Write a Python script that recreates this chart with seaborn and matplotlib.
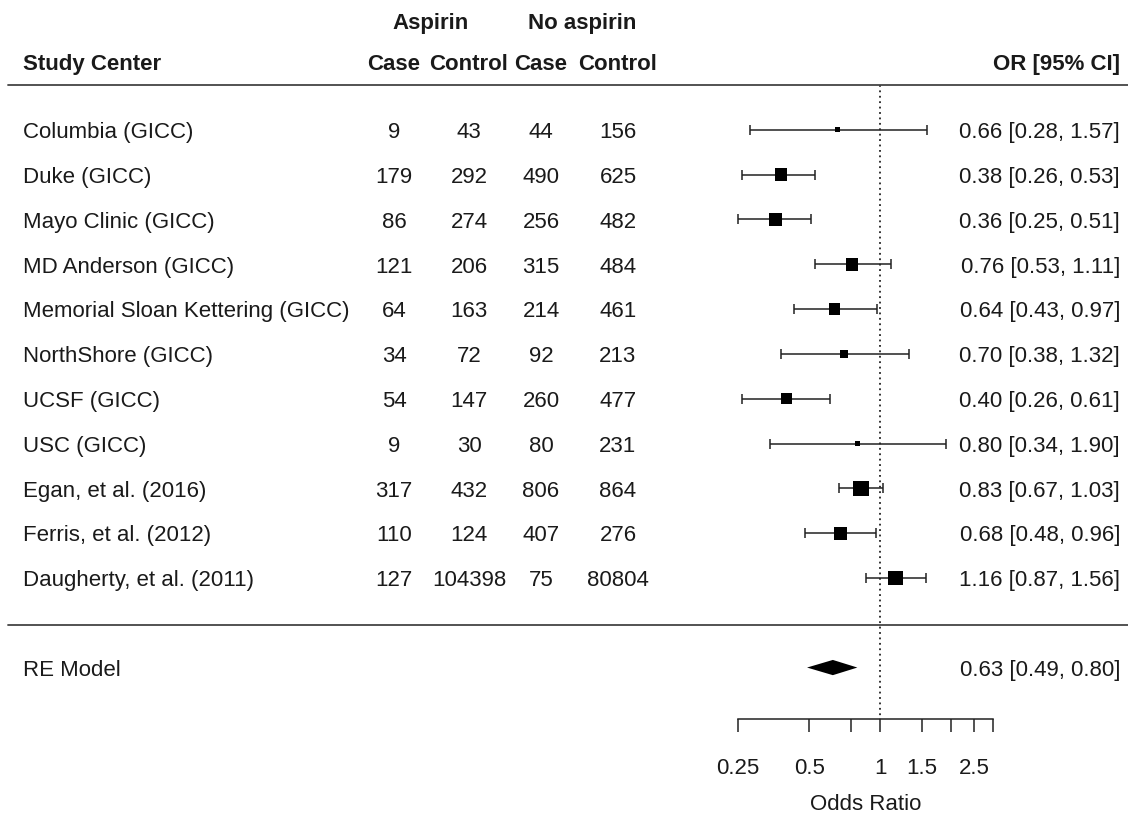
import numpy as np
import matplotlib
matplotlib.use("Agg")
import matplotlib.pyplot as plt
from matplotlib.transforms import blended_transform_factory
import seaborn as sns

studies = ["Columbia (GICC)", "Duke (GICC)", "Mayo Clinic (GICC)", "MD Anderson (GICC)",
           "Memorial Sloan Kettering (GICC)", "NorthShore (GICC)", "UCSF (GICC)", "USC (GICC)",
           "Egan, et al. (2016)", "Ferris, et al. (2012)", "Daugherty, et al. (2011)"]
asp_case = [9, 179, 86, 121, 64, 34, 54, 9, 317, 110, 127]
asp_control = [43, 292, 274, 206, 163, 72, 147, 30, 432, 124, 104398]
noasp_case = [44, 490, 256, 315, 214, 92, 260, 80, 806, 407, 75]
noasp_control = [156, 625, 482, 484, 461, 213, 477, 231, 864, 276, 80804]
odds_ratio = [0.66, 0.38, 0.36, 0.76, 0.64, 0.70, 0.40, 0.80, 0.83, 0.68, 1.16]
ci_low = [0.28, 0.26, 0.25, 0.53, 0.43, 0.38, 0.26, 0.34, 0.67, 0.48, 0.87]
ci_high = [1.57, 0.53, 0.51, 1.11, 0.97, 1.32, 0.61, 1.90, 1.03, 0.96, 1.56]
re_label = "RE Model"
re_or, re_low, re_high = 0.63, 0.49, 0.80
tau2 = 0.1
xticks = [0.25, 0.5, 0.75, 1, 1.5, 2, 2.5, 3]
xticklabels = ["0.25", "0.5", "", "1", "1.5", "", "2.5", ""]

sns.set_theme(style="white")
plt.rcParams["font.family"] = ["Liberation Sans", "DejaVu Sans"]
TXT = "#1a1a1a"
FS = 16

W, H = 1128, 820
fig = plt.figure(figsize=(W / 100, H / 100), dpi=100)
ax = fig.add_axes([738 / W, 0, (993 - 738) / W, 1])
ax.set_xscale("log")
ax.set_xlim(0.25, 3)
ax.set_ylim(-4.38, 13.92)
ax.patch.set_alpha(0)

k = len(studies)
rows = np.arange(k, 0, -1)

# weights -> square size (px)
se = (np.log(ci_high) - np.log(ci_low)) / 3.92
w = 1 / (se ** 2 + tau2)
side_px = 5 + 10.5 * (w - w.min()) / (w.max() - w.min())
side_pt = side_px * 72 / 100

ax.errorbar(odds_ratio, rows,
            xerr=[np.array(odds_ratio) - np.array(ci_low), np.array(ci_high) - np.array(odds_ratio)],
            fmt="none", ecolor="#222222", elinewidth=1.1, capsize=3.6, capthick=1.1, clip_on=False, zorder=2)
sns.scatterplot(x=odds_ratio, y=rows, marker="s", s=side_pt ** 2, color="black",
                linewidth=0, ax=ax, zorder=3, legend=False, clip_on=False)

# RE diamond
h = 0.17
ax.fill([re_low, re_or, re_high, re_or], [-1, -1 + h, -1, -1 - h], color="black", lw=0, zorder=3)

# reference line
ax.plot([1, 1], [12, -2.15], color="#222222", lw=1.3, ls=(0, (1, 2)), zorder=1, clip_on=False)

# axis
for s in ["top", "right", "left"]:
    ax.spines[s].set_visible(False)
ax.spines["bottom"].set_position(("data", -2.15))
ax.spines["bottom"].set_bounds(0.25, 3)
ax.spines["bottom"].set_color("#222222")
ax.spines["bottom"].set_linewidth(1.1)
ax.set_xticks(xticks)
ax.set_xticklabels(xticklabels)
ax.xaxis.set_minor_locator(matplotlib.ticker.NullLocator())
ax.tick_params(axis="x", which="major", direction="out", length=9.5, width=1.1,
               color="#222222", labelsize=FS, labelcolor=TXT, pad=17.5, bottom=True)
ax.set_yticks([])
ax.grid(False)

tr = blended_transform_factory(fig.transFigure, ax.transData)

def fx(px):
    return px / W

dy = -0.04

# header
ax.text(fx(431), 13.43 + dy, "Aspirin", transform=tr, ha="center", va="center", fontsize=FS, weight="bold", color=TXT)
ax.text(fx(582), 13.43 + dy, "No aspirin", transform=tr, ha="center", va="center", fontsize=FS, weight="bold", color=TXT)
ax.text(fx(23), 12.52 + dy, "Study Center", transform=tr, ha="left", va="center", fontsize=FS, weight="bold", color=TXT)
col_x = [394, 469, 541, 618]
for cx, lab in zip(col_x, ["Case", "Control", "Case", "Control"]):
    ax.text(fx(cx), 12.52 + dy, lab, transform=tr, ha="center", va="center", fontsize=FS, weight="bold", color=TXT)
ax.text(fx(1120), 12.52 + dy, "OR [95% CI]", transform=tr, ha="right", va="center", fontsize=FS, weight="bold", color=TXT)

# rules
ax.plot([fx(8), 1], [12, 12], transform=tr, color="#444444", lw=1.3, clip_on=False)
ax.plot([fx(8), 1], [-0.04, -0.04], transform=tr, color="#444444", lw=1.3, clip_on=False)

# rows
for i in range(k):
    y = rows[i] + dy
    ax.text(fx(23), y, studies[i], transform=tr, ha="left", va="center", fontsize=FS, color=TXT)
    for cx, v in zip(col_x, [asp_case[i], asp_control[i], noasp_case[i], noasp_control[i]]):
        ax.text(fx(cx), y, str(v), transform=tr, ha="center", va="center", fontsize=FS, color=TXT)
    ax.text(fx(1120), y, f"{odds_ratio[i]:.2f} [{ci_low[i]:.2f}, {ci_high[i]:.2f}]", transform=tr,
            ha="right", va="center", fontsize=FS, color=TXT)

ax.text(fx(23), -1 + dy, re_label, transform=tr, ha="left", va="center", fontsize=FS, color=TXT)
ax.text(fx(1120), -1 + dy, f"{re_or:.2f} [{re_low:.2f}, {re_high:.2f}]", transform=tr,
        ha="right", va="center", fontsize=FS, color=TXT)

ax.text(fx(866), -4.04, "Odds Ratio", transform=tr, ha="center", va="center", fontsize=FS, color=TXT)

fig.savefig("out.png", dpi=100, facecolor="white")
